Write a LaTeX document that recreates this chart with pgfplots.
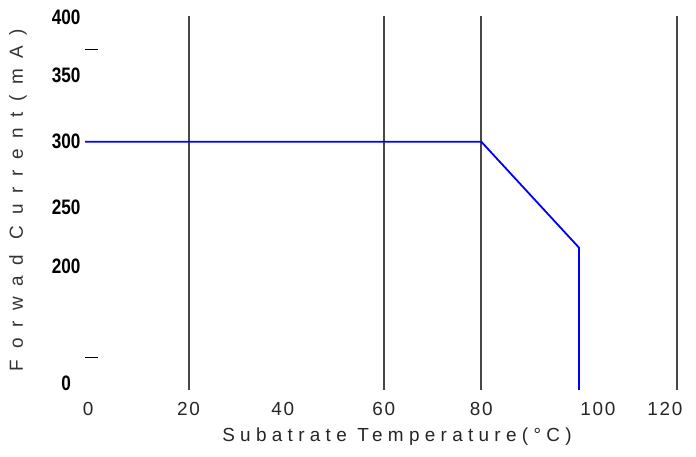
\documentclass[border=0pt]{standalone}
\usepackage{fontspec}
\setmainfont{Liberation Sans}
\usepackage{graphicx}
\usepackage{pgfplots}
\pgfplotsset{compat=1.18}
\newcommand\yl[1]{\scalebox{0.82}[1]{\bfseries #1}}
\begin{document}
\begin{tikzpicture}[x=1bp,y=1bp]
\useasboundingbox (-85.1,-67) rectangle (610.9,390);
\begin{axis}[
  at={(0,0)}, anchor=south west, scale only axis,
  width=601.2bp, height=374.2bp,
  xmin=-1.2, xmax=122, ymin=103, ymax=400,
  axis line style={draw=none},
  tick align=inside, major tick length=0pt,
  xtick pos=bottom, ytick pos=left,
  xtick={-0.6,20,39.3,60,80,103.9,117.6},
  xticklabels={0,20,40,60,80,100,120},
  xticklabel style={anchor=center, yshift=-19bp, text=black!85,
    font=\fontsize{19}{19}\selectfont\addfontfeature{LetterSpace=9}},
  ytick={108,201,248,300,353,399},
  yticklabels={\yl{0},\yl{200},\yl{250},\yl{300},\yl{350},\yl{400}},
  yticklabel style={anchor=center, xshift=-19bp, text=black,
    font=\fontsize{21}{21}\selectfont},
  grid style={draw=black!72, line width=2bp},
  extra x ticks={20,60,80,120}, extra x tick labels={},
  extra x tick style={grid=major},
  extra y ticks={128.6,373}, extra y tick labels={},
  extra y tick style={major tick length=13bp, tick style={draw=black, line width=1.3bp}},
]
\addplot[draw={rgb,255:red,0;green,0;blue,255}, line width=1.8bp] coordinates {
  (-1.2,300) (80,300) (100,216) (100,0)
};
\end{axis}
\node[rotate=90, text=black!80, font=\fontsize{19}{19}\selectfont\addfontfeature{LetterSpace=56}] at (-67.1,190) {Forwad Current(mA)};
\node[text=black!85, font=\fontsize{19}{19}\selectfont\addfontfeature{LetterSpace=28}] at (311.9,-47) {Subatrate Temperature(\textdegree C)};
\end{tikzpicture}
\end{document}
